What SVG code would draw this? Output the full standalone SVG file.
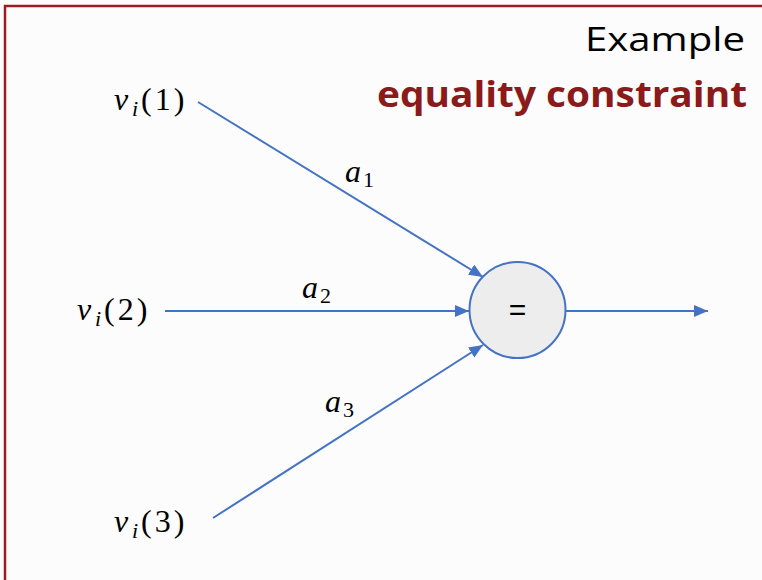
<svg xmlns="http://www.w3.org/2000/svg" width="762" height="580" viewBox="0 0 762 580">
<defs>
<marker id="ah" markerWidth="14" markerHeight="12" refX="14" refY="6" orient="auto" markerUnits="userSpaceOnUse">
<path d="M0,0 L14,6 L0,12 Z" fill="#4472C4"/>
</marker>
<style>
.conn{stroke:#4472C4;stroke-width:2;fill:none;marker-end:url(#ah)}
.math{font-family:"Liberation Serif","Times New Roman",serif;font-size:32px;fill:#000}
.it{font-style:italic}
.sub{font-size:22px}
.par{letter-spacing:3px}
</style>
</defs>
<rect x="0" y="0" width="762" height="580" fill="#FCFCFC"/>
<path d="M5,580 L5,6 L762,6" fill="none" stroke="#9B1C20" stroke-width="2.5"/>
<text x="745" y="51" text-anchor="end" font-family="'Open Sans','Liberation Sans',sans-serif" font-size="33" fill="#000" textLength="160" lengthAdjust="spacingAndGlyphs">Example</text>
<text x="747" y="107" text-anchor="end" font-family="'Open Sans','Liberation Sans',sans-serif" font-weight="bold" font-size="36" fill="#8B1A1A" textLength="370" lengthAdjust="spacingAndGlyphs">equality constraint</text>
<g id="connectors">
<line class="conn" x1="198" y1="102" x2="483" y2="277"/>
<line class="conn" x1="165" y1="311" x2="469" y2="311"/>
<line class="conn" x1="213" y1="518" x2="483" y2="345"/>
<line class="conn" x1="566" y1="311" x2="708" y2="311"/>
<text class="math" x="345" y="182"><tspan class="it">a</tspan><tspan class="sub" x="363" dy="5">1</tspan></text>
<text class="math" x="302" y="298"><tspan class="it">a</tspan><tspan class="sub" x="320" dy="5">2</tspan></text>
<text class="math" x="325" y="412"><tspan class="it">a</tspan><tspan class="sub" x="343" dy="5">3</tspan></text>
</g>
<g id="v1"><text class="math" x="114" y="110"><tspan class="it">v</tspan><tspan class="it sub" x="132" dy="6">i</tspan><tspan class="par" x="141" dy="-6">(1)</tspan></text></g>
<g id="v2"><text class="math" x="77" y="320"><tspan class="it">v</tspan><tspan class="it sub" x="95" dy="6">i</tspan><tspan class="par" x="104" dy="-6">(2)</tspan></text></g>
<g id="v3"><text class="math" x="114" y="532"><tspan class="it">v</tspan><tspan class="it sub" x="132" dy="6">i</tspan><tspan class="par" x="141" dy="-6">(3)</tspan></text></g>
<g id="eq">
<circle cx="517.5" cy="310" r="48" fill="#EDEDED" stroke="#4472C4" stroke-width="2"/>
<text x="517.5" y="320" text-anchor="middle" font-family="'Liberation Sans',sans-serif" font-size="30" fill="#000">=</text>
</g>
</svg>
